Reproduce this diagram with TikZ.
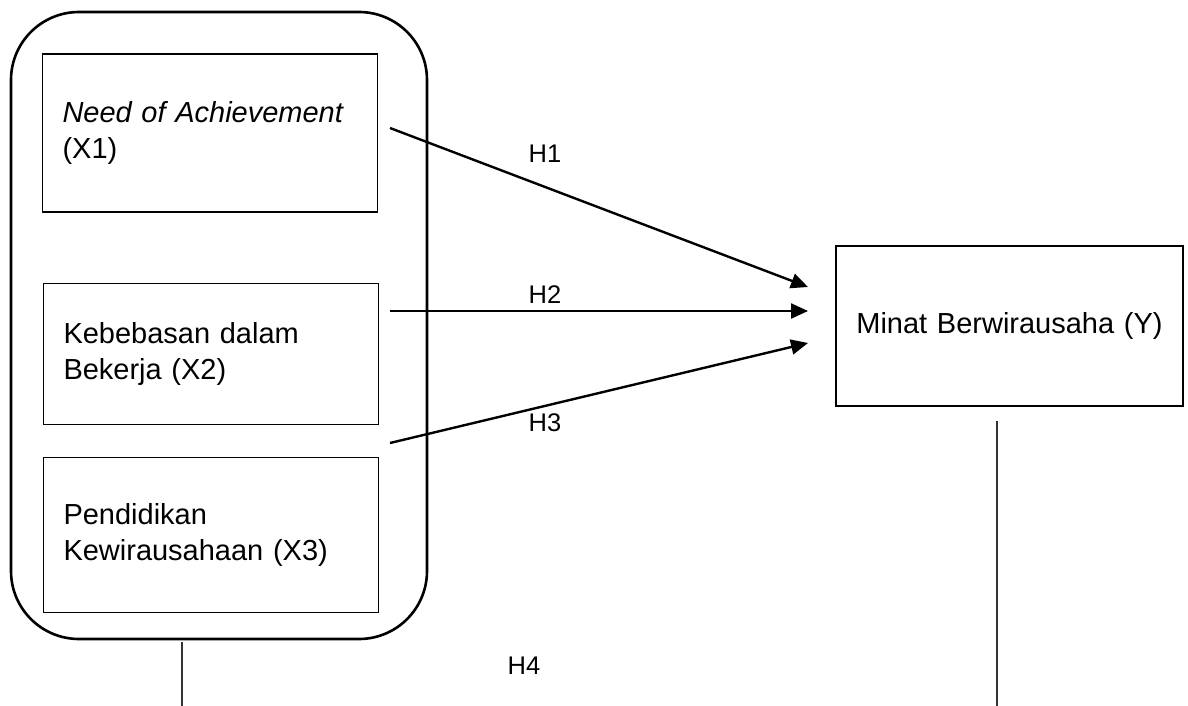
\documentclass[tikz,border=0pt]{standalone}
\usepackage{fontspec}
\setmainfont{Liberation Sans}
\usetikzlibrary{arrows.meta}
\tikzset{
	varbox/.style={draw, line width=1.3pt, inner xsep=20pt, text width=295pt, align=left},
	hyp/.style={line width=2.4pt, -{Triangle[length=17pt,width=15pt]}},
	drop/.style={line width=1.2pt, black!80},
	hlab/.style={font=\fontsize{25.5}{30}\selectfont}
}

\begin{document}
\begin{tikzpicture}[x=1pt, y=-1pt, font=\fontsize{29}{36.5}\selectfont]
	\useasboundingbox (0,0) rectangle (1188,706);
	\draw[line width=2.6pt, rounded corners=68pt] (11,12) rectangle (427,639);
	\node[varbox, minimum height=158pt] (x1) at (210,133) {\textit{Need of Achievement}\\(X1)};
	\node[varbox, minimum height=141pt] (x2) at (211,354) {Kebebasan dalam\\Bekerja (X2)};
	\node[varbox, minimum height=155pt] (x3) at (211,535) {Pendidikan\\Kewirausahaan (X3)};
	\node[varbox, minimum height=160pt, text width=307pt, align=center] (y) at (1009.5,326) {Minat Berwirausaha (Y)};
	\coordinate (s1) at (390,128); \coordinate (e1) at (808,287);
	\coordinate (s2) at (390,311); \coordinate (e2) at (808,311);
	\coordinate (s3) at (390,443); \coordinate (e3) at (808,343);
	\draw[hyp] (s1) -- (e1);
	\draw[hyp] (s2) -- (e2);
	\draw[hyp] (s3) -- (e3);
	\node[hlab] (h1) at (545,154) {H1};
	\node[hlab] (h2) at (545,295) {H2};
	\node[hlab] (h3) at (545,423) {H3};
	\node[hlab] (h4) at (524,666) {H4};
	\coordinate (d1) at (182,642); \coordinate (d1e) at (182,706);
	\coordinate (d2) at (997,421); \coordinate (d2e) at (997,706);
	\draw[drop] (d1) -- (d1e);
	\draw[drop] (d2) -- (d2e);
\end{tikzpicture}
\end{document}
